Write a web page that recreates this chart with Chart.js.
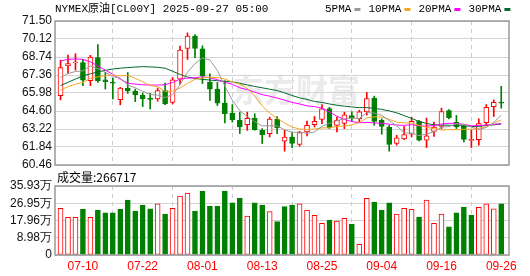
<!DOCTYPE html>
<html>
<head>
<meta charset="utf-8">
<script src="https://cdn.jsdelivr.net/npm/chart.js@4.4.1/dist/chart.umd.min.js"></script>
<style>
html, body { margin: 0; padding: 0; background: #fff; }
#wrap { position: relative; width: 530px; height: 276px; }
#price { position: absolute; left: 0; top: 0; }
#vol { position: absolute; left: 0; top: 170px; }
</style>
</head>
<body>
<div id="wrap">
<canvas id="price" width="530" height="176"></canvas>
<canvas id="vol" width="530" height="106"></canvas>
</div>
<script>
// trading days shown (07-07 .. 09-26)
var dates = ['07-07','07-08','07-09','07-10','07-11','07-14','07-15','07-16','07-17','07-18',
  '07-21','07-22','07-23','07-24','07-25','07-28','07-29','07-30','07-31','08-01',
  '08-04','08-05','08-06','08-07','08-08','08-11','08-12','08-13','08-14','08-15',
  '08-18','08-19','08-20','08-21','08-22','08-25','08-26','08-27','08-28','08-29',
  '09-01','09-02','09-03','09-04','09-05','09-08','09-09','09-10','09-11','09-12',
  '09-15','09-16','09-17','09-18','09-19','09-22','09-23','09-24','09-25','09-26'];

var openP = [65.78,68.06,68.28,68.31,66.92,68.69,66.99,66.82,65.47,66.33,
  66.11,65.80,65.60,65.52,66.16,65.25,67.04,69.40,70.34,69.37,
  66.80,66.28,65.20,64.44,63.88,63.55,64.06,63.12,62.87,63.98,
  62.28,62.61,62.03,62.99,63.55,63.95,64.78,63.50,63.65,64.25,
  64.02,64.53,65.60,63.88,63.37,62.11,62.45,62.82,63.80,62.36,
  63.04,63.42,64.64,63.73,63.45,62.36,62.41,63.70,64.94,65.27];
var highP = [68.49,68.89,68.99,68.56,68.87,69.70,67.55,67.12,66.41,67.55,
  66.28,65.98,65.95,66.36,66.74,67.17,69.58,70.59,70.46,69.60,
  67.45,66.79,66.92,65.09,64.51,64.51,64.39,63.25,64.13,64.18,
  63.12,62.99,63.04,63.83,64.18,65.09,64.89,64.13,64.51,64.53,
  64.66,66.02,65.74,64.00,63.50,62.74,63.40,64.13,63.88,64.06,
  63.75,64.82,64.71,64.26,63.50,63.12,64.00,65.09,65.45,66.49];
var lowP = [65.45,67.47,67.73,66.54,66.54,66.79,66.28,65.52,65.07,65.95,
  65.32,64.94,64.76,65.35,65.09,65.14,66.66,68.56,68.69,66.71,
  65.42,65.02,63.68,63.75,62.87,63.12,63.12,62.11,62.61,62.87,
  61.52,61.78,61.90,62.69,63.37,63.63,63.25,62.99,63.25,63.82,
  63.76,64.28,63.51,62.82,61.52,61.98,62.40,62.61,62.31,61.80,
  62.66,63.25,64.00,63.25,62.23,61.80,61.98,63.50,64.18,64.82];
var closeP = [67.93,68.23,68.36,66.97,68.74,66.92,66.84,66.74,66.36,66.13,
  65.83,65.52,65.48,66.16,65.14,66.99,69.27,70.34,69.40,67.30,
  66.28,65.20,64.39,63.93,63.37,64.03,63.17,62.79,63.98,63.30,
  62.61,62.11,62.94,63.50,63.80,64.77,63.30,63.90,64.30,64.05,
  64.53,65.56,63.80,63.42,62.03,62.54,62.80,63.80,62.36,62.69,
  63.37,64.56,64.08,63.37,62.43,62.40,63.63,64.89,65.27,65.20];

// volume, in 万
var volume = [24.3,19.6,19.6,23.8,19.6,23.4,22.0,22.0,23.8,28.6,
  22.9,26.0,24.0,26.6,21.3,24.3,30.7,32.3,22.9,33.3,
  25.5,25.5,33.3,27.2,29.7,20.3,27.2,26.0,22.6,17.4,
  25.2,26.0,26.6,23.4,20.7,16.5,18.2,17.7,19.1,16.1,
  5.6,29.5,27.6,23.4,27.2,21.3,24.3,23.8,19.8,28.6,
  16.5,21.3,14.7,22.0,25.0,20.8,24.8,26.6,24.0,26.67];

var ma5 = [67.17,67.47,67.63,67.68,68.05,67.84,67.57,67.24,67.12,66.60,
  66.38,66.12,65.86,65.82,65.63,65.86,66.61,67.58,68.23,68.66,
  68.52,67.70,66.51,65.42,64.63,64.18,63.78,63.46,63.47,63.45,
  63.17,62.96,62.99,62.89,62.99,63.42,63.66,63.85,64.01,64.06,
  64.02,64.47,64.45,64.27,63.87,63.47,62.92,62.92,62.71,62.84,
  63.00,63.36,63.41,63.61,63.56,63.37,63.18,63.34,63.72,64.28];
var ma10 = [66.21,66.46,66.66,66.79,67.09,67.22,67.30,67.35,67.30,67.32,
  67.11,66.84,66.55,66.47,66.11,66.12,66.36,66.72,67.03,67.14,
  67.19,67.16,67.05,66.82,66.65,66.35,65.74,64.99,64.44,64.04,
  63.68,63.37,63.22,63.18,63.22,63.30,63.31,63.42,63.45,63.53,
  63.72,64.07,64.15,64.14,63.97,63.74,63.69,63.68,63.49,63.35,
  63.24,63.14,63.17,63.16,63.20,63.19,63.27,63.38,63.67,63.92];
var ma20 = [68.44,68.56,68.59,68.56,68.36,68.06,67.73,67.42,67.04,66.74,
  66.66,66.61,66.59,66.59,66.61,66.79,67.04,67.12,67.14,67.23,
  67.15,67.00,66.80,66.65,66.38,66.24,66.05,65.85,65.74,65.59,
  65.43,65.26,65.14,65.00,64.94,64.82,64.53,64.20,63.95,63.79,
  63.70,63.72,63.69,63.66,63.59,63.52,63.50,63.55,63.47,63.44,
  63.48,63.60,63.66,63.65,63.58,63.46,63.48,63.53,63.58,63.64];
var ma30 = [66.55,66.80,67.05,67.30,67.45,67.60,67.72,67.82,67.88,67.93,
  67.97,68.00,67.98,67.95,67.88,67.65,67.40,67.20,67.10,67.03,
  66.97,66.92,66.88,66.83,66.72,66.60,66.48,66.38,66.27,66.17,
  65.99,65.79,65.61,65.49,65.33,65.26,65.14,65.04,64.97,64.91,
  64.86,64.86,64.81,64.72,64.61,64.46,64.25,64.03,63.80,63.64,
  63.54,63.52,63.51,63.49,63.46,63.41,63.42,63.49,63.54,63.60];

var tickDates = ['07-10','07-22','08-01','08-13','08-25','09-04','09-16','09-26'];
var priceTicks = [71.50,70.12,68.74,67.36,65.98,64.60,63.22,61.84,60.46];
var volTicks = [35.93,26.95,17.96,8.98,0];
var maNames = ['5PMA','10PMA','20PMA','30PMA'];
var lastVolume = 266717;

var RED = '#ff0000';
var GREEN = '#008000';
var maColors = ['#999999','#f5a623','#ff00ff','#006b2d'];

var tickIdx = tickDates.map(d => dates.indexOf(d));
var up = closeP.map((c, i) => c >= openP[i]);
var volUp = closeP.map((c, i) => i == 0 ? up[0] : c >= closeP[i - 1]);

Chart.defaults.font.family = '"Liberation Sans", Arial, sans-serif';
Chart.defaults.font.size = 12;
Chart.defaults.animation = false;

var xMin = -0.74, xMax = 60.04;

function setTicks(list) {
    return function (scale) {
        scale.ticks = list.map(v => ({ value: v }));
    };
}

var frame = {
    id: 'frame',
    afterDatasetsDraw(chart) {
        var a = chart.chartArea, ctx = chart.ctx;
        ctx.save();
        ctx.strokeStyle = '#999';
        ctx.lineWidth = 1.5;
        ctx.strokeRect(a.left, a.top, a.right - a.left, a.bottom - a.top);
        ctx.restore();
    }
};

var watermark = {
    id: 'watermark',
    beforeDatasetsDraw(chart) {
        var ctx = chart.ctx;
        ctx.save();
        ctx.fillStyle = 'rgba(215,215,220,0.5)';
        ctx.font = 'bold 32px "Noto Sans CJK SC"';
        ctx.textBaseline = 'middle';
        ctx.fillText('东方财富', 232, 90);
        ctx.restore();
    }
};

var header = {
    id: 'header',
    afterDraw(chart) {
        var ctx = chart.ctx;
        ctx.save();
        ctx.fillStyle = '#000';
        ctx.textBaseline = 'middle';
        ctx.font = '11px "Liberation Mono", "Noto Sans CJK SC"';
        ctx.fillText('NYMEX原油[CL00Y] 2025-09-27 05:00', 55, 9);
        // legend
        var x = 325;
        maNames.forEach((n, i) => {
            ctx.fillStyle = '#000';
            ctx.fillText(n, x, 9);
            x += ctx.measureText(n).width + 3;
            ctx.fillStyle = maColors[i];
            ctx.fillRect(x, 8, 6, 3);
            x += 14;
        });
        ctx.restore();
    }
};

new Chart(document.getElementById('price'), {
    type: 'bar',
    data: {
        datasets: [
            ...[ma5, ma10, ma20, ma30].map((arr, k) => ({
                type: 'line',
                data: arr.map((v, i) => ({ x: i, y: v })),
                borderColor: maColors[k],
                borderWidth: 1,
                pointRadius: 0,
                tension: 0,
                order: 0
            })),
            {
                data: dates.map((d, i) => {
                    var o = openP[i], c = closeP[i];
                    if (Math.abs(c - o) < 0.08) {
                        var m = (o + c) / 2;
                        return { x: i, y: [m - 0.04, m + 0.04] };
                    }
                    return { x: i, y: [o, c] };
                }),
                backgroundColor: up.map(u => u ? '#ffffff' : GREEN),
                borderColor: up.map(u => u ? RED : GREEN),
                borderWidth: 1,
                borderSkipped: false,
                barThickness: 5,
                grouped: false,
                order: 1
            },
            {
                data: dates.map((d, i) => ({ x: i, y: [lowP[i], highP[i]] })),
                backgroundColor: up.map(u => u ? RED : GREEN),
                barThickness: 1,
                grouped: false,
                order: 2
            }
        ]
    },
    options: {
        responsive: false,
        layout: { padding: { top: 21, right: 21, bottom: 11, left: 0 } },
        plugins: { legend: { display: false }, tooltip: { enabled: false } },
        scales: {
            x: {
                type: 'linear', min: xMin, max: xMax, offset: false,
                afterBuildTicks: setTicks(tickIdx),
                afterFit: s => { s.height = 0; },
                ticks: { display: false },
                grid: { color: '#cccccc', drawTicks: false },
                border: { display: false, dash: [4, 4] }
            },
            y: {
                min: 60.46, max: 71.50,
                afterBuildTicks: setTicks(priceTicks),
                afterFit: s => { s.width = 55; },
                ticks: { color: '#111', padding: 3, autoSkip: false, callback: v => v.toFixed(2) },
                grid: { color: '#d4d4d4', drawTicks: false },
                border: { display: false }
            }
        }
    },
    plugins: [watermark, frame, header]
});

var volLabel = {
    id: 'volLabel',
    afterDraw(chart) {
        var ctx = chart.ctx;
        ctx.save();
        ctx.fillStyle = '#000';
        ctx.textBaseline = 'middle';
        ctx.font = '12px "Noto Sans CJK SC"';
        ctx.fillText('成交量:' + lastVolume, 57, 7);
        ctx.restore();
    }
};

new Chart(document.getElementById('vol'), {
    type: 'bar',
    data: {
        datasets: [{
            data: volume.map((v, i) => ({ x: i, y: v })),
            backgroundColor: volUp.map(u => u ? '#ffffff' : GREEN),
            borderColor: volUp.map(u => u ? RED : GREEN),
            borderWidth: 1,
            borderSkipped: false,
            barThickness: 5
        }]
    },
    options: {
        responsive: false,
        layout: { padding: { top: 16, right: 21, bottom: 0, left: 0 } },
        plugins: { legend: { display: false }, tooltip: { enabled: false } },
        scales: {
            x: {
                type: 'linear', min: xMin, max: xMax, offset: false,
                afterBuildTicks: setTicks(tickIdx),
                afterFit: s => { s.height = 21; },
                ticks: {
                    color: RED, padding: 4, maxRotation: 0, autoSkip: false,
                    callback: v => dates[v]
                },
                grid: { color: '#cccccc', drawTicks: false },
                border: { display: false, dash: [4, 4] }
            },
            y: {
                min: 0, max: 35.93,
                afterBuildTicks: setTicks(volTicks),
                afterFit: s => { s.width = 55; },
                ticks: {
                    color: '#111', padding: 3, autoSkip: false,
                    callback: v => v == 0 ? '0' : v.toFixed(2) + '万'
                },
                grid: { color: '#d4d4d4', drawTicks: false },
                border: { display: false }
            }
        }
    },
    plugins: [frame, volLabel]
});
</script>
</body>
</html>
